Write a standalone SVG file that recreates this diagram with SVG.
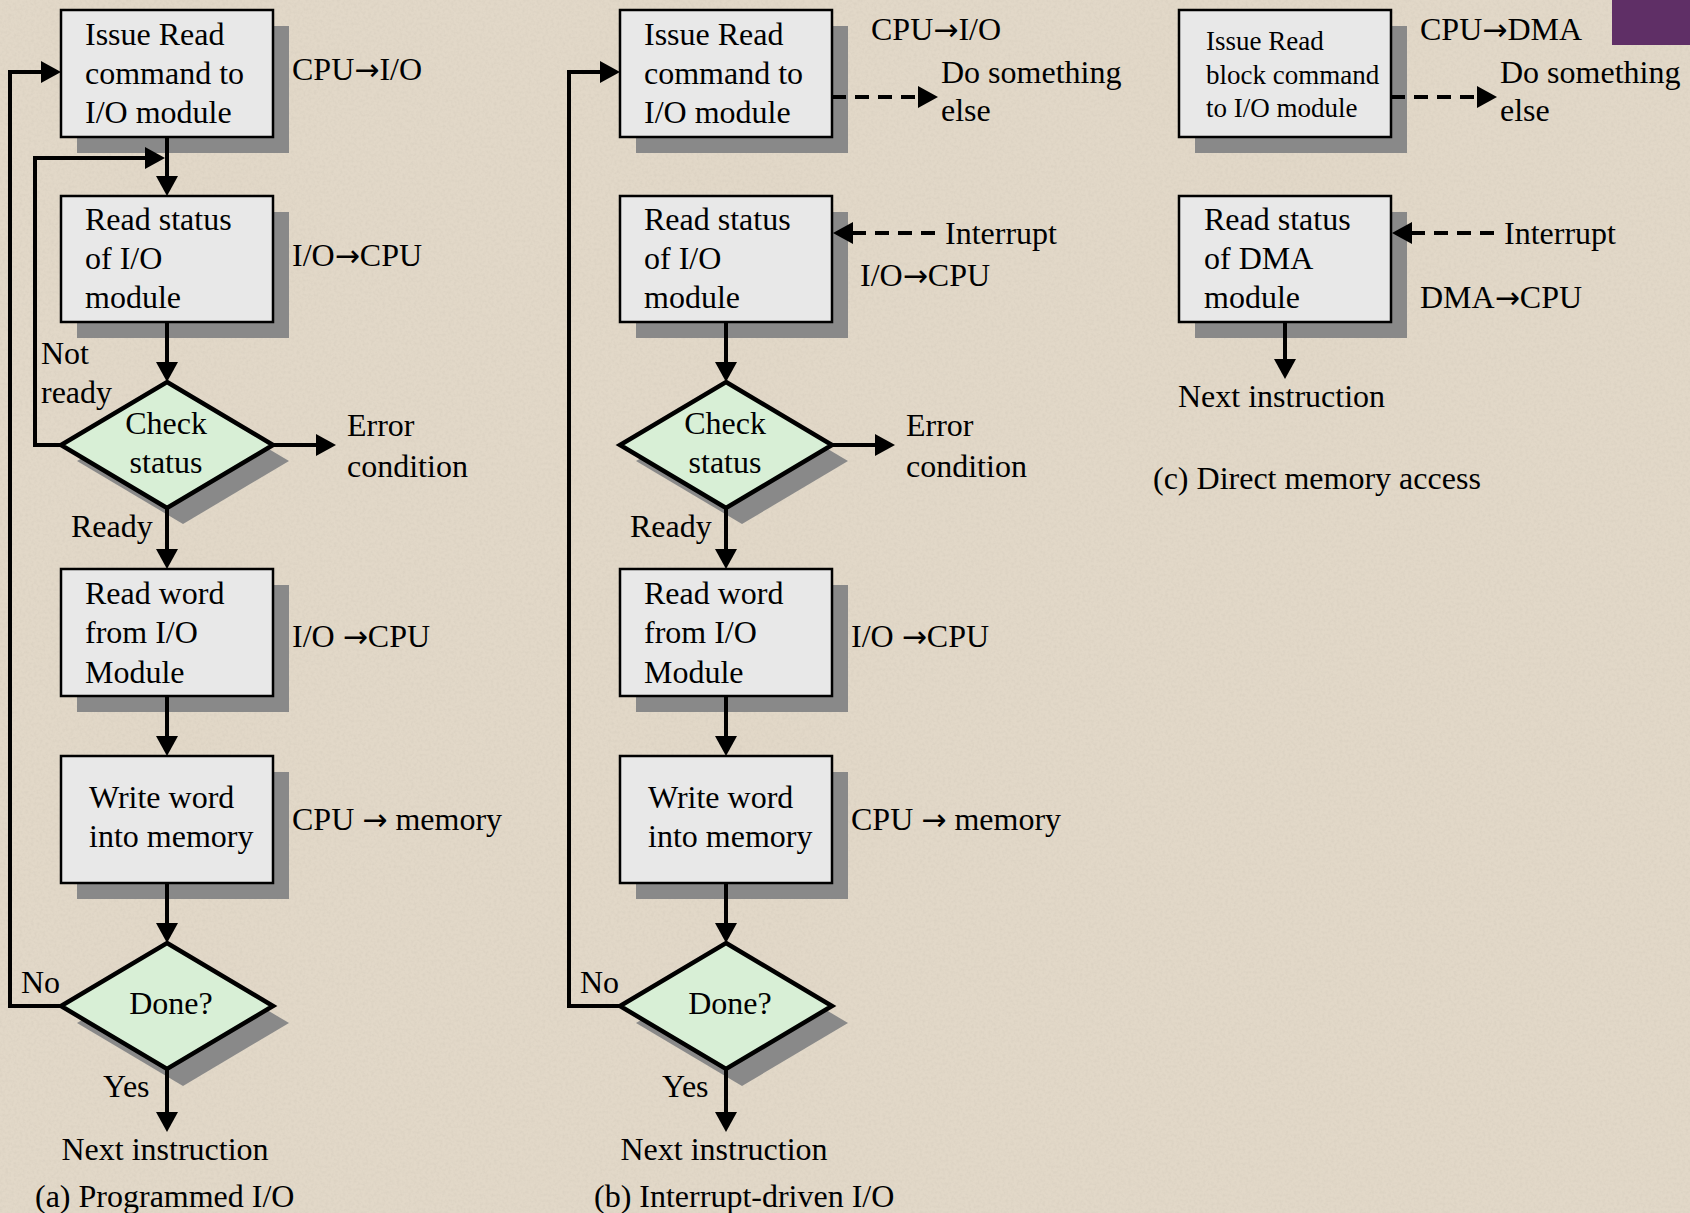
<svg xmlns="http://www.w3.org/2000/svg" width="1690" height="1213" viewBox="0 0 1690 1213">
<style>
text{font-family:"Liberation Serif","Times New Roman",serif;font-size:32px;fill:#000}
.sm{font-size:27px}
.mid{text-anchor:middle}
.ar{font-family:"DejaVu Sans",sans-serif;font-size:30px}
.box{fill:#e8e8e8;stroke:#000;stroke-width:2.5}
.shadow{fill:#898989}
.dia{fill:#d8efd6;stroke:#000;stroke-width:4.5;stroke-linejoin:miter}
.con{fill:none;stroke:#000;stroke-width:4}
.arr{marker-end:url(#ah)}
.dash{stroke-dasharray:14 9}
</style>
<defs>
<marker id="ah" markerUnits="userSpaceOnUse" markerWidth="22" markerHeight="22" refX="2" refY="11" orient="auto" viewBox="0 0 22 22">
<path d="M0,0 L20,11 L0,22 z" fill="#000"/>
</marker>
<filter id="noise" x="0" y="0" width="100%" height="100%">
<feTurbulence type="fractalNoise" baseFrequency="0.35" numOctaves="2" seed="3"/>
<feColorMatrix type="matrix" values="0 0 0 0 0.55  0 0 0 0 0.5  0 0 0 0 0.42  0 0 0 -1.2 0.75"/>
</filter>
</defs>
<rect x="0" y="0" width="1690" height="1213" fill="#e2d8c8"/>
<rect x="0" y="0" width="1690" height="1213" filter="url(#noise)" opacity="0.35"/>
<rect x="1612" y="0" width="78" height="45" fill="#5f2f66"/>

<!-- Panel (a) -->
<g id="a-issue"><rect class="shadow" x="77" y="26" width="212" height="127"/><rect class="box" x="61" y="10" width="212" height="127"/>
<text x="85" y="45">Issue Read</text><text x="85" y="84">command to</text><text x="85" y="123">I/O module</text></g>
<g id="a-readstatus"><rect class="shadow" x="77" y="212" width="212" height="126"/><rect class="box" x="61" y="196" width="212" height="126"/>
<text x="85" y="230">Read status</text><text x="85" y="269">of I/O</text><text x="85" y="308">module</text></g>
<g id="a-check"><polygon class="shadow" points="183,398 289,461 183,524 77,461"/><polygon class="dia" points="167,382 273,445 167,508 61,445"/>
<text class="mid" x="166" y="434">Check</text><text class="mid" x="166" y="473">status</text></g>
<g id="a-readword"><rect class="shadow" x="77" y="585" width="212" height="127"/><rect class="box" x="61" y="569" width="212" height="127"/>
<text x="85" y="604">Read word</text><text x="85" y="643">from I/O</text><text x="85" y="683">Module</text></g>
<g id="a-writeword"><rect class="shadow" x="77" y="772" width="212" height="127"/><rect class="box" x="61" y="756" width="212" height="127"/>
<text x="89" y="808">Write word</text><text x="89" y="847">into memory</text></g>
<g id="a-done"><polygon class="shadow" points="183,960 289,1023 183,1086 77,1023"/><polygon class="dia" points="167,943 273,1006 167,1069 61,1006"/>
<text class="mid" x="171" y="1014">Done?</text></g>
<g id="a-labels">
<text x="292" y="80">CPU<tspan class="ar">→</tspan>I/O</text>
<text x="292" y="266">I/O<tspan class="ar">→</tspan>CPU</text>
<text x="41" y="364">Not</text><text x="41" y="403">ready</text>
<text x="347" y="436">Error</text><text x="347" y="477">condition</text>
<text x="71" y="537">Ready</text>
<text x="292" y="647">I/O <tspan class="ar">→</tspan>CPU</text>
<text x="292" y="830">CPU <tspan class="ar">→</tspan> memory</text>
<text x="21" y="993">No</text>
<text x="103" y="1097">Yes</text>
<text class="mid" x="165" y="1160">Next instruction</text>
<text x="35" y="1207">(a) Programmed I/O</text>
</g>

<!-- Panel (b) -->
<g id="b-issue"><rect class="shadow" x="636" y="26" width="212" height="127"/><rect class="box" x="620" y="10" width="212" height="127"/>
<text x="644" y="45">Issue Read</text><text x="644" y="84">command to</text><text x="644" y="123">I/O module</text></g>
<g id="b-readstatus"><rect class="shadow" x="636" y="212" width="212" height="126"/><rect class="box" x="620" y="196" width="212" height="126"/>
<text x="644" y="230">Read status</text><text x="644" y="269">of I/O</text><text x="644" y="308">module</text></g>
<g id="b-check"><polygon class="shadow" points="742,398 848,461 742,524 636,461"/><polygon class="dia" points="726,382 832,445 726,508 620,445"/>
<text class="mid" x="725" y="434">Check</text><text class="mid" x="725" y="473">status</text></g>
<g id="b-readword"><rect class="shadow" x="636" y="585" width="212" height="127"/><rect class="box" x="620" y="569" width="212" height="127"/>
<text x="644" y="604">Read word</text><text x="644" y="643">from I/O</text><text x="644" y="683">Module</text></g>
<g id="b-writeword"><rect class="shadow" x="636" y="772" width="212" height="127"/><rect class="box" x="620" y="756" width="212" height="127"/>
<text x="648" y="808">Write word</text><text x="648" y="847">into memory</text></g>
<g id="b-done"><polygon class="shadow" points="742,960 848,1023 742,1086 636,1023"/><polygon class="dia" points="726,943 832,1006 726,1069 620,1006"/>
<text class="mid" x="730" y="1014">Done?</text></g>
<g id="b-labels">
<text x="871" y="40">CPU<tspan class="ar">→</tspan>I/O</text>
<text x="941" y="83">Do something</text><text x="941" y="121">else</text>
<text x="945" y="244">Interrupt</text>
<text x="860" y="286">I/O<tspan class="ar">→</tspan>CPU</text>
<text x="906" y="436">Error</text><text x="906" y="477">condition</text>
<text x="630" y="537">Ready</text>
<text x="851" y="647">I/O <tspan class="ar">→</tspan>CPU</text>
<text x="851" y="830">CPU <tspan class="ar">→</tspan> memory</text>
<text x="580" y="993">No</text>
<text x="662" y="1097">Yes</text>
<text class="mid" x="724" y="1160">Next instruction</text>
<text x="594" y="1207">(b) Interrupt-driven I/O</text>
</g>

<!-- Panel (c) -->
<g id="c-issue"><rect class="shadow" x="1195" y="26" width="212" height="127"/><rect class="box" x="1179" y="10" width="212" height="127"/>
<text class="sm" x="1206" y="50">Issue Read</text><text class="sm" x="1206" y="84">block command</text><text class="sm" x="1206" y="117">to I/O module</text></g>
<g id="c-readstatus"><rect class="shadow" x="1195" y="212" width="212" height="126"/><rect class="box" x="1179" y="196" width="212" height="126"/>
<text x="1204" y="230">Read status</text><text x="1204" y="269">of DMA</text><text x="1204" y="308">module</text></g>
<g id="c-labels">
<text x="1420" y="40">CPU<tspan class="ar">→</tspan>DMA</text>
<text x="1500" y="83">Do something</text><text x="1500" y="121">else</text>
<text x="1504" y="244">Interrupt</text>
<text x="1420" y="308">DMA<tspan class="ar">→</tspan>CPU</text>
<text x="1178" y="407">Next instruction</text>
<text x="1153" y="489">(c) Direct memory access</text>
</g>

<g id="connectors">
<!-- a -->
<line class="con arr" x1="167" y1="137" x2="167" y2="178"/>
<polyline class="con arr" points="61,445 35,445 35,158 147,158"/>
<line class="con arr" x1="167" y1="322" x2="167" y2="364"/>
<line class="con arr" x1="273" y1="445" x2="318" y2="445"/>
<line class="con arr" x1="167" y1="508" x2="167" y2="551"/>
<line class="con arr" x1="167" y1="696" x2="167" y2="738"/>
<line class="con arr" x1="167" y1="883" x2="167" y2="925"/>
<line class="con arr" x1="167" y1="1069" x2="167" y2="1114"/>
<polyline class="con arr" points="61,1006 10,1006 10,72 43,72"/>
<!-- b -->
<line class="con dash arr" x1="832" y1="97" x2="920" y2="97"/>
<line class="con dash arr" x1="935" y1="233" x2="851" y2="233"/>
<line class="con arr" x1="726" y1="322" x2="726" y2="364"/>
<line class="con arr" x1="832" y1="445" x2="877" y2="445"/>
<line class="con arr" x1="726" y1="508" x2="726" y2="551"/>
<line class="con arr" x1="726" y1="696" x2="726" y2="738"/>
<line class="con arr" x1="726" y1="883" x2="726" y2="925"/>
<line class="con arr" x1="726" y1="1069" x2="726" y2="1114"/>
<polyline class="con arr" points="620,1006 569,1006 569,72 602,72"/>
<!-- c -->
<line class="con dash arr" x1="1391" y1="97" x2="1479" y2="97"/>
<line class="con dash arr" x1="1494" y1="233" x2="1410" y2="233"/>
<line class="con arr" x1="1285" y1="322" x2="1285" y2="361"/>
</g>
</svg>
